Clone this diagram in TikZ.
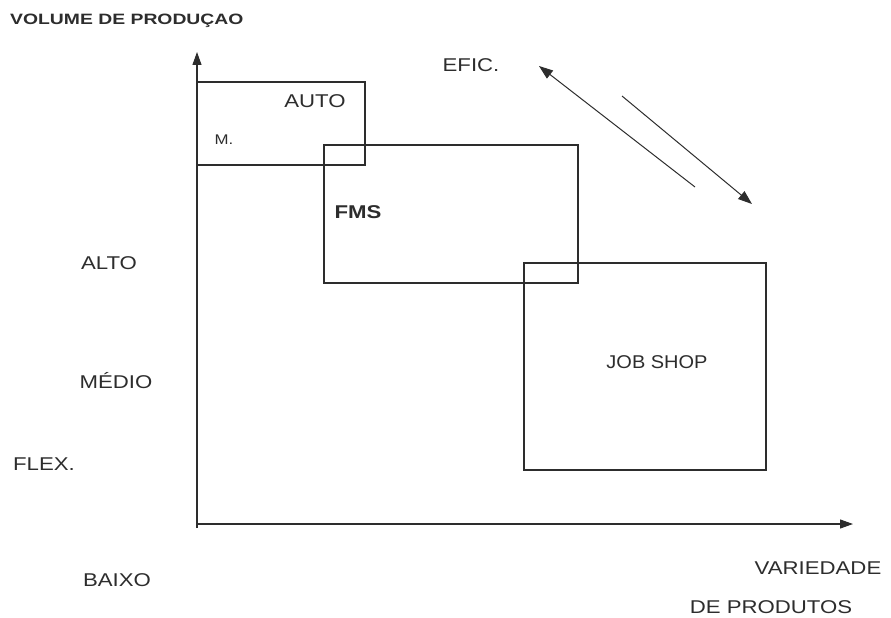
\documentclass[tikz,border=0pt]{standalone}
\usepackage{fontspec}
\setmainfont{Liberation Sans}
\usetikzlibrary{arrows.meta,calc,positioning}
\definecolor{InkGray}{RGB}{45,45,45}
\newcommand{\widetext}[1]{\scalebox{1.2}[1]{#1}}

\begin{document}
\begin{tikzpicture}[x=1pt, y=-1pt,
    label/.style={font=\fontsize{18.5}{20}\selectfont, text=InkGray, inner sep=0pt},
    region/.style={draw=InkGray, line width=1.1pt},
    tip/.style={-{Triangle[length=13pt,width=9pt]}},
    axis/.style={draw=InkGray, line width=1.1pt, tip}]
    \useasboundingbox (0,0) rectangle (891,618);

    % Axes
    \coordinate (origin) at (197,528);
    \coordinate (ytip) at (197,52);
    \coordinate (xleft) at (197,524);
    \coordinate (xtip) at (853,524);
    \draw[axis] (origin) -- (ytip);
    \draw[axis] (xleft) -- (xtip);

    % Regions
    \draw[region] (197,82) rectangle (365,165);
    \draw[region] (324,145) rectangle (578,283);
    \draw[region] (524,263) rectangle (766,470);

    % Efficiency / flexibility arrows
    \coordinate (efictop) at (539,66);
    \coordinate (eficend) at (695,187);
    \coordinate (flexstart) at (622,96);
    \coordinate (flexbot) at (752,204);
    \draw[InkGray, line width=1pt, {Triangle[length=14pt,width=10pt]}-] (efictop) -- (eficend);
    \draw[InkGray, line width=1pt, -{Triangle[length=14pt,width=10pt]}] (flexstart) -- (flexbot);

    % Labels
    \node[label, font=\fontsize{15}{17}\selectfont\bfseries, anchor=west] (volume) at (10,21) {\scalebox{1.29}[1]{VOLUME DE PRODUÇAO}};
    \node[label] (auto) at (315,101) {\widetext{AUTO}};
    \node[label, font=\fontsize{14}{16}\selectfont] (m) at (224,140) {\widetext{M.}};
    \node[label, font=\fontsize{18.5}{20}\selectfont\bfseries] (fms) at (358,212) {\widetext{FMS}};
    \node[label] (jobshop) at (657,362) {\scalebox{1.08}[1]{JOB SHOP}};
    \node[label] (efic) at (471,65) {\widetext{EFIC.}};
    \node[label] (alto) at (109,263) {\widetext{ALTO}};
    \node[label] (medio) at (116,381) {\widetext{MÉDIO}};
    \node[label] (flex) at (44,464) {\widetext{FLEX.}};
    \node[label] (baixo) at (117,580) {\widetext{BAIXO}};
    \node[label] (variedade) at (818,568) {\widetext{VARIEDADE}};
    \node[label] (produtos) at (771,607) {\widetext{DE PRODUTOS}};
\end{tikzpicture}
\end{document}
